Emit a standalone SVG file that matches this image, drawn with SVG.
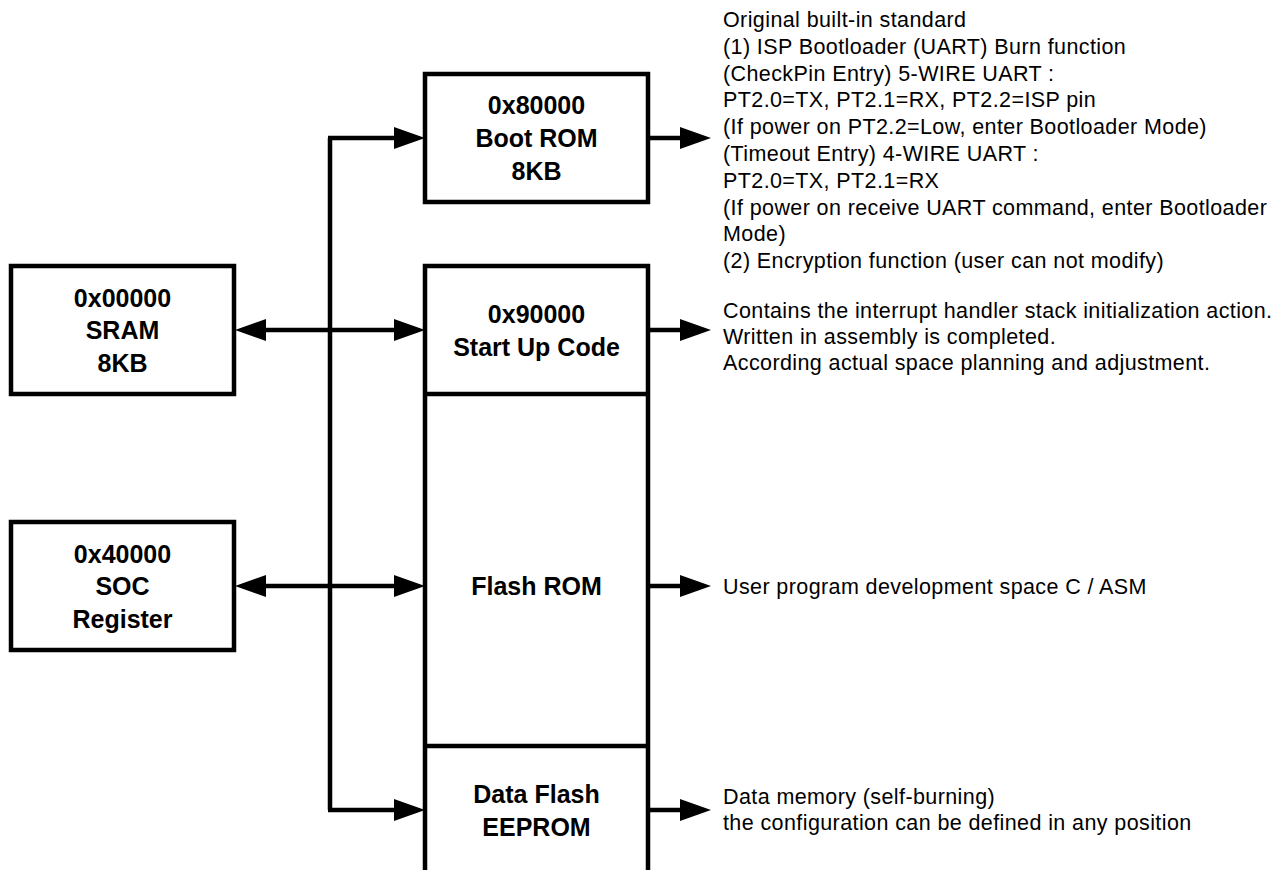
<svg xmlns="http://www.w3.org/2000/svg" width="1284" height="870" viewBox="0 0 1284 870">
  <style>
    .box { fill: #ffffff; stroke: #000000; stroke-width: 4.5; }
    .edge { fill: none; stroke: #000000; stroke-width: 4.5; }
    .line { fill: none; stroke: #000000; stroke-width: 4.5; }
    .lbl { font-family: "Liberation Sans", Arial, sans-serif; font-weight: bold; font-size: 25px; fill: #000000; text-anchor: middle; }
    .note { font-family: "Liberation Sans", Arial, sans-serif; font-size: 21.5px; letter-spacing: 0.4px; fill: #000000; }
  </style>
  <defs>
    <marker id="ah" markerUnits="userSpaceOnUse" markerWidth="31" markerHeight="22" viewBox="0 0 31 22" refX="1" refY="11" orient="auto-start-reverse">
      <path d="M0,0 L31,11 L0,22 z" fill="#000000"/>
    </marker>
  </defs>
  <rect x="0" y="0" width="1284" height="870" fill="#ffffff"/>

  <g id="connectors">
    <!-- bus -->
    <path class="line" d="M330,138 L330,810"/>
    <path class="line" d="M328,138 L395,138" marker-end="url(#ah)"/>
    <path class="line" d="M328,810 L395,810" marker-end="url(#ah)"/>
    <path class="line" d="M265,330 L395,330" marker-start="url(#ah)" marker-end="url(#ah)"/>
    <path class="line" d="M265,586 L395,586" marker-start="url(#ah)" marker-end="url(#ah)"/>
    <!-- outputs -->
    <path class="line" d="M648,138 L681,138" marker-end="url(#ah)"/>
    <path class="line" d="M648,330 L681,330" marker-end="url(#ah)"/>
    <path class="line" d="M648,586 L681,586" marker-end="url(#ah)"/>
    <path class="line" d="M648,810 L681,810" marker-end="url(#ah)"/>
  </g>

  <g id="sram">
    <rect class="box" x="11" y="266" width="223" height="128"/>
    <text class="lbl" x="122.5" y="307">0x00000</text>
    <text class="lbl" x="122.5" y="339">SRAM</text>
    <text class="lbl" x="122.5" y="372">8KB</text>
  </g>

  <g id="soc">
    <rect class="box" x="11" y="522" width="223" height="128"/>
    <text class="lbl" x="122.5" y="563">0x40000</text>
    <text class="lbl" x="122.5" y="595">SOC</text>
    <text class="lbl" x="122.5" y="628">Register</text>
  </g>

  <g id="bootrom">
    <rect class="box" x="425" y="74" width="223" height="128"/>
    <text class="lbl" x="536.5" y="114">0x80000</text>
    <text class="lbl" x="536.5" y="147">Boot ROM</text>
    <text class="lbl" x="536.5" y="180">8KB</text>
  </g>

  <g id="flash-column">
    <path class="edge" d="M425,874 L425,266 L648,266 L648,874"/>
  </g>

  <g id="startup">
    <line class="edge" x1="425" y1="394" x2="648" y2="394"/>
    <text class="lbl" x="536.5" y="323">0x90000</text>
    <text class="lbl" x="536.5" y="356">Start Up Code</text>
  </g>

  <g id="flashrom">
    <line class="edge" x1="425" y1="746" x2="648" y2="746"/>
    <text class="lbl" x="536.5" y="595">Flash ROM</text>
  </g>

  <g id="dataflash">
    <text class="lbl" x="536.5" y="803">Data Flash</text>
    <text class="lbl" x="536.5" y="836">EEPROM</text>
  </g>

  <g id="note-bootrom">
    <text class="note" x="723" y="27">Original built-in standard</text>
    <text class="note" x="723" y="53.8">(1) ISP Bootloader (UART) Burn function</text>
    <text class="note" x="723" y="80.6">(CheckPin Entry) 5-WIRE UART :</text>
    <text class="note" x="723" y="107.4">PT2.0=TX, PT2.1=RX, PT2.2=ISP pin</text>
    <text class="note" x="723" y="134.2">(If power on PT2.2=Low, enter Bootloader Mode)</text>
    <text class="note" x="723" y="161">(Timeout Entry) 4-WIRE UART :</text>
    <text class="note" x="723" y="187.8">PT2.0=TX, PT2.1=RX</text>
    <text class="note" x="723" y="214.6">(If power on receive UART command, enter Bootloader</text>
    <text class="note" x="723" y="241.4">Mode)</text>
    <text class="note" x="723" y="268.2">(2) Encryption function (user can not modify)</text>
  </g>

  <g id="note-startup">
    <text class="note" x="723" y="318">Contains the interrupt handler stack initialization action.</text>
    <text class="note" x="723" y="344">Written in assembly is completed.</text>
    <text class="note" x="723" y="370">According actual space planning and adjustment.</text>
  </g>

  <g id="note-flash">
    <text class="note" x="723" y="594">User program development space C / ASM</text>
  </g>

  <g id="note-data">
    <text class="note" x="723" y="804">Data memory (self-burning)</text>
    <text class="note" x="723" y="830">the configuration can be defined in any position</text>
  </g>
</svg>
